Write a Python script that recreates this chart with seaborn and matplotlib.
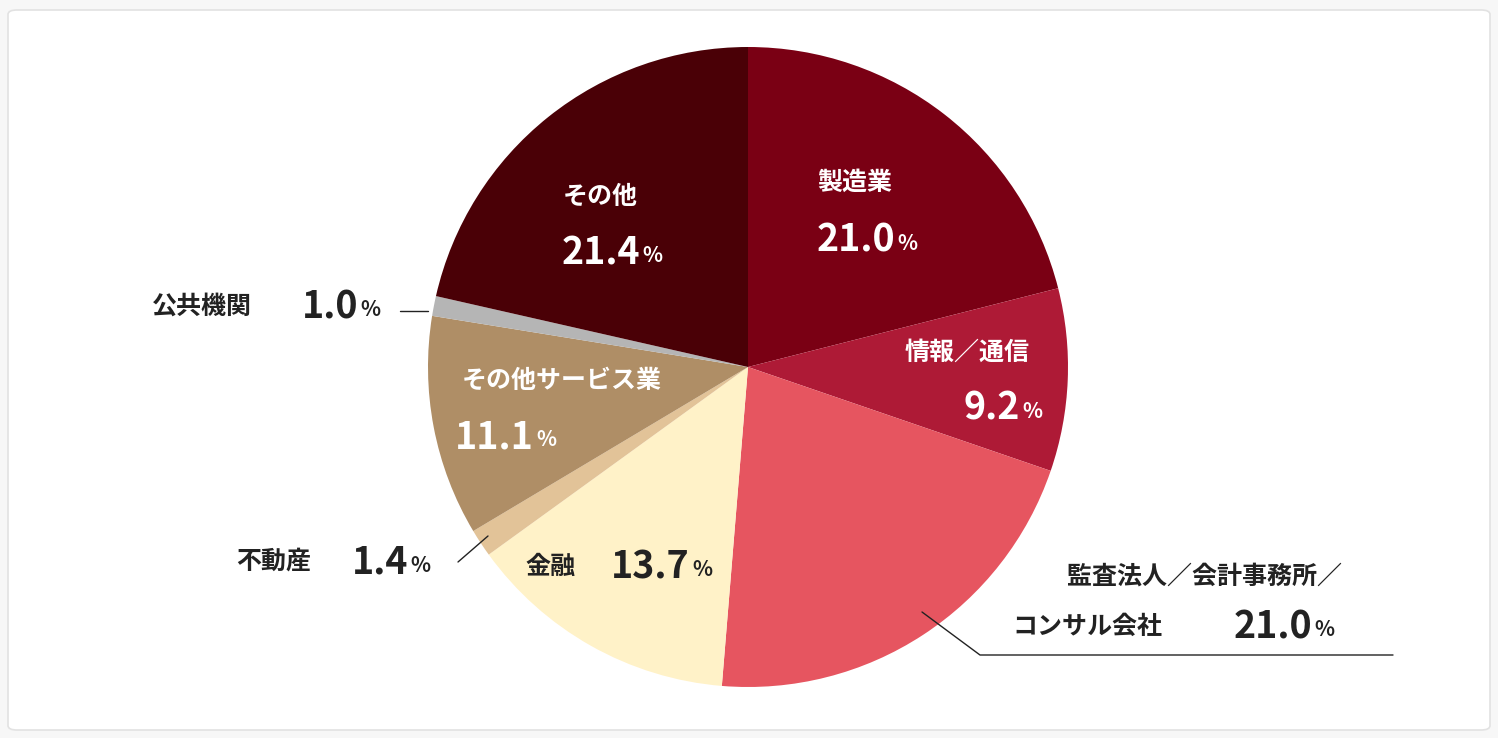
import matplotlib
matplotlib.use("Agg")
import matplotlib.pyplot as plt
import seaborn as sns
from matplotlib.patches import FancyBboxPatch

sns.set_theme(style="white")
plt.rcParams["font.family"] = "Noto Sans CJK JP"

categories = ["製造業", "情報／通信", "監査法人／会計事務所／コンサル会社", "金融", "不動産",
              "その他サービス業", "公共機関", "その他"]
values = [21.0, 9.2, 21.0, 13.7, 1.4, 11.1, 1.0, 21.4]
colors = ["#7a0014", "#ae1a36", "#e65560", "#fff2c8", "#e2c398", "#af8e66", "#b5b5b5", "#4a0006"]

W, H = 1498, 738
fig = plt.figure(figsize=(W/100, H/100), dpi=100)
bg = fig.add_axes([0, 0, 1, 1], zorder=-5)
bg.axis("off"); bg.set_xlim(0, 1); bg.set_ylim(0, 1)
bg.add_patch(FancyBboxPatch((8/W, 8/H), 1482/W, 720/H, boxstyle="round,pad=0,rounding_size=0.006",
                            fc="white", ec="#e2e2e2", lw=1.2))
cx, cy, R = 748, 367, 320
ax = fig.add_axes([(cx-R)/W, 1-(cy+R)/H, 2*R/W, 2*R/H])
ax.patch.set_alpha(0)
ax.pie(values, colors=colors, startangle=90, counterclock=False, radius=1,
       wedgeprops=dict(linewidth=0))
ax.set_xlim(-1, 1); ax.set_ylim(-1, 1); ax.set_aspect("equal"); ax.axis("off")

def P(px, py):
    return (px - cx) / R, (cy - py) / R

def txt(px, py, s, size, color, ha="center"):
    ax.text(*P(px, py), s, fontsize=size, color=color, ha=ha, va="center",
            fontweight="bold", clip_on=False)

def num(px_right, py, s, color):
    txt(px_right, py, s, 27, color, ha="right")
    txt(px_right + 2, py + 3, "%", 15, color, ha="left")

w, d = "white", "#222222"
txt(855, 183, categories[0], 18, w); num(895, 240, "21.0", w)
txt(600, 197, categories[7], 18, w); num(640, 253, "21.4", w)
txt(967, 353, categories[1], 18, w); num(1020, 408, "9.2", w)
txt(562, 381, categories[5], 18, w); num(534, 437, "11.1", w)
txt(525, 567, categories[3], 18, d, ha="left"); num(690, 567, "13.7", d)
txt(236, 562, categories[4], 18, d, ha="left"); num(408, 562, "1.4", d)
txt(152, 307, categories[6], 18, d, ha="left"); num(358, 307, "1.0", d)
txt(1205, 577, "監査法人／会計事務所／", 18, d)
txt(1012, 627, "コンサル会社", 18, d, ha="left"); num(1312, 627, "21.0", d)

def line(pts):
    xs, ys = zip(*[P(*p) for p in pts])
    ax.plot(xs, ys, color="#222222", lw=1, clip_on=False)

line([(922, 612), (980, 655), (1393, 655)])
line([(458, 562), (488, 536)])
line([(400, 311), (428, 311)])

fig.savefig("out.png", dpi=100, facecolor="#f7f7f7")
